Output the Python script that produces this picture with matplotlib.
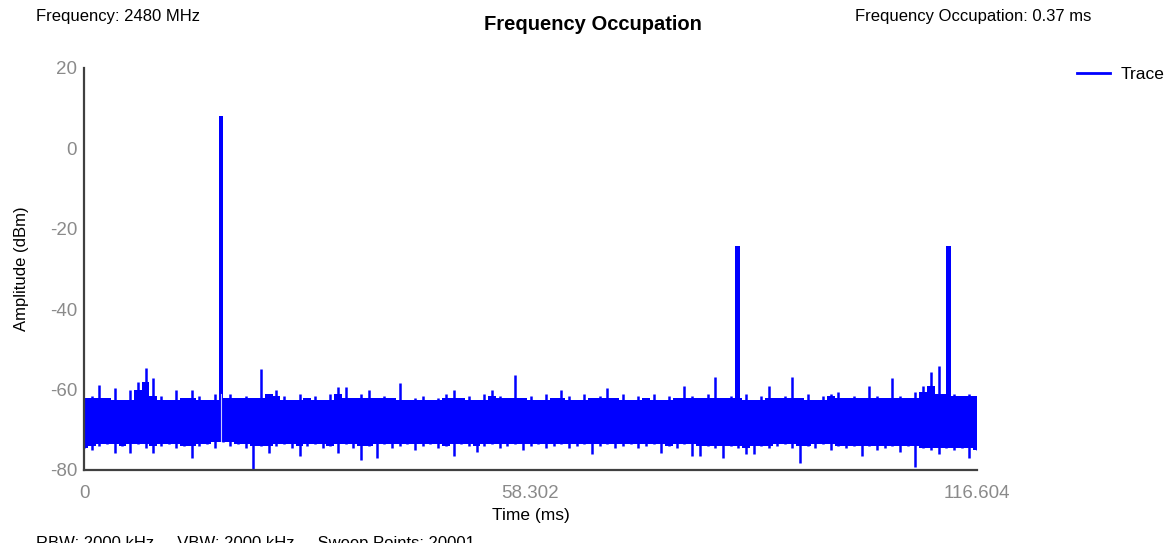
import numpy as np
import matplotlib
matplotlib.use("Agg")
import matplotlib.pyplot as plt
from matplotlib.lines import Line2D

plt.rcParams["font.family"] = ["Liberation Sans", "DejaVu Sans"]
plt.rcParams["axes.unicode_minus"] = False

# sweep summary
center_freq = "2480 MHz"
occupation = "0.37 ms"
sweep_info = "RBW: 2000 kHz     VBW: 2000 kHz     Sweep Points: 20001"

t_end = 116.604
x_ticks = [0, 58.302, 116.604]
x_tick_labels = ["0", "58.302", "116.604"]
y_ticks = [-80, -60, -40, -20, 0, 20]

# noise floor envelope, one max / min pair per ~1 ms bin (dBm)
noise_hi = [
    -62, -61.5, -58.9, -62, -59.7, -62.5, -60, -58, -54.6, -57,
    -61.5, -62.5, -60, -62, -60, -61.5, -62.5, -61, -62, -61,
    -62, -61.5, -62, -54.9, -61, -60, -61.5, -62.5, -61, -62,
    -61.5, -62.5, -61, -59.4, -59.4, -62, -61, -60, -62, -61.5,
    -62, -58.3, -62.5, -62, -61.5, -62.5, -62, -61, -60, -62,
    -61.5, -62.5, -61, -60, -61.5, -62, -56.4, -62, -61.5, -62.5,
    -61, -62, -60, -61.5, -62.5, -61, -62, -61.5, -59.5, -62,
    -61, -62.5, -61.5, -62, -61, -62.5, -61.5, -62, -59, -61.5,
    -62, -61, -56.9, -62, -61.5, -62, -61, -62.5, -61.5, -59,
    -62, -61.5, -56.9, -62, -61, -62.5, -61.5, -61, -60.5, -62,
    -61.5, -62, -59, -61.5, -62, -57.2, -61.5, -62, -60.5, -59,
    -55.6, -54.1, -61, -61, -61.5, -61, -61.5,
]
noise_lo = [
    -74.5, -75, -74, -73.5, -75.8, -74, -75.8, -73.5, -74.5, -75.8,
    -74, -73.5, -74.5, -74, -77, -74, -73.5, -74.5, -73, -74,
    -73.5, -74.5, -80, -74, -75.8, -74, -73.5, -74.5, -76.5, -74,
    -73.5, -74.5, -74, -75.8, -73.5, -74.5, -77.5, -74, -77, -73.5,
    -74.5, -74, -73.5, -75, -74, -73.5, -74.5, -74, -76.5, -73.5,
    -74, -75.5, -74, -73.5, -74.5, -74, -73.5, -75, -74, -73.5,
    -74.5, -74, -73.5, -74.5, -74, -73.5, -76, -74, -73.5, -74.5,
    -74, -73.5, -74.5, -74, -73.5, -75.8, -74, -74.5, -73.5, -76.5,
    -76.5, -74, -74.5, -77, -74, -74.5, -76, -76, -74, -74.5,
    -74, -73.5, -74.5, -78.3, -74, -74.5, -73.5, -75, -74, -74.5,
    -74, -76.5, -74, -75, -74.5, -74, -75.5, -74, -79.3, -74.5,
    -75, -76, -74.5, -75, -74.5, -77, -75,
]

# bursts that rise above the floor
burst_t = [17.9, 85.3, 112.9]
burst_peak = [8.0, -24.3, -24.3]
burst_w = [0.5, 0.7, 0.7]

trace_color = "#0000ff"

fig = plt.figure(figsize=(11.74, 5.43), dpi=100)
ax = fig.add_axes([84 / 1174, 1 - 470 / 543, (977 - 84) / 1174, (470 - 68) / 543])

n = len(noise_hi)
t_bins = np.linspace(0, t_end, n)
# dense core of the floor: the quietest value around each bin
core_hi = [min(noise_hi[max(0, i - 1):i + 2]) for i in range(n)]
core_lo = [max(noise_lo[max(0, i - 1):i + 2]) for i in range(n)]
ax.fill_between(t_bins, core_lo, core_hi, step="mid", color=trace_color, lw=0)
# individual excursions as thin strokes
ax.vlines(t_bins, noise_lo, noise_hi, color=trace_color, lw=1.8)

for t, peak, w in zip(burst_t, burst_peak, burst_w):
    ax.fill_between([t - w / 2, t + w / 2], -72, peak, color=trace_color, lw=0)
# the first burst leaves a gap in the floor where the trace sits high
ax.plot([burst_t[0], burst_t[0]], [-75, -61], color="white", lw=0.8, alpha=0.8)

ax.set_xlim(0, t_end)
ax.set_ylim(-80, 20)
ax.set_xticks(x_ticks)
ax.set_xticklabels(x_tick_labels)
ax.set_yticks(y_ticks)
ax.tick_params(axis="both", length=0, labelsize=13.5, labelcolor="#8a8a8a")
ax.tick_params(axis="x", pad=11)
ax.tick_params(axis="y", pad=5)

for side in ("top", "right"):
    ax.spines[side].set_visible(False)
for side in ("left", "bottom"):
    ax.spines[side].set_color("#404040")
    ax.spines[side].set_linewidth(1.6)

ax.set_xlabel("Time (ms)", fontsize=12.5, labelpad=4)
ax.set_ylabel("Amplitude (dBm)", fontsize=12)
ax.yaxis.set_label_coords(-0.0616, 0.5)

fig.text(593 / 1174, 1 - 25 / 543, "Frequency Occupation", ha="center", va="center",
         fontsize=14.5, fontweight="bold")
fig.text(36 / 1174, 1 - 16 / 543, "Frequency: " + center_freq, ha="left", va="center",
         fontsize=12)
fig.text(855 / 1174, 1 - 16 / 543, "Frequency Occupation: " + occupation, ha="left",
         va="center", fontsize=12)
fig.text(36 / 1174, 1 - 536 / 543, sweep_info, ha="left", va="top", fontsize=12)

fig.legend(handles=[Line2D([0], [0], color=trace_color, lw=2)], labels=["Trace"],
           loc="upper right", bbox_to_anchor=(1180 / 1174, 1 - 51 / 543), frameon=False,
           fontsize=12.5, handlelength=1.9, handletextpad=0.6)

fig.savefig("out.png", dpi=100)
